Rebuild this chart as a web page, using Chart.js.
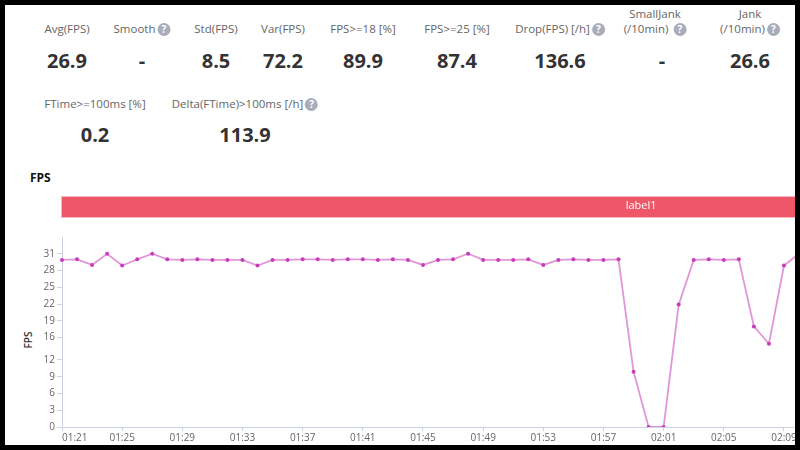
<!DOCTYPE html>
<html>
<head>
<meta charset="utf-8">
<script src="https://cdn.jsdelivr.net/npm/chart.js@4"></script>
<style>
  html, body { margin: 0; padding: 0; background: #000; }
  #page { position: absolute; left: 5px; top: 5px; width: 790px; height: 440px; background: #fff; overflow: hidden; font-family: "Open Sans", sans-serif; }
  #page canvas { position: absolute; left: -5px; top: -5px; }
  .stat { position: absolute; transform: translateX(-50%); white-space: nowrap; text-align: center; }
  .name { font-size: 11.5px; line-height: 15px; color: #666; }
  .val { font-size: 20px; font-weight: 700; line-height: 24px; color: #333; }
  .help { display: inline-block; width: 13px; height: 13px; border-radius: 50%; background: #a9adba; color: #fff; font-size: 10px; font-weight: 700; line-height: 13px; text-align: center; vertical-align: 0; margin-left: 2px; }
  #title { position: absolute; left: 25px; top: 164px; font-size: 12px; font-weight: 700; color: #111; }
  #yname { position: absolute; left: 15px; top: 328px; font-size: 10px; font-weight: 600; color: #333; transform: rotate(-90deg); }
</style>
</head>
<body>
<div id="page">
  <div class="stat name" style="left:62px;top:16px">Avg(FPS)</div>
  <div class="stat name" style="left:137px;top:16px">Smooth<span class="help">?</span></div>
  <div class="stat name" style="left:211px;top:16px">Std(FPS)</div>
  <div class="stat name" style="left:278px;top:16px">Var(FPS)</div>
  <div class="stat name" style="left:358px;top:16px">FPS&gt;=18 [%]</div>
  <div class="stat name" style="left:452px;top:16px">FPS&gt;=25 [%]</div>
  <div class="stat name" style="left:555px;top:16px">Drop(FPS) [/h]<span class="help">?</span></div>
  <div class="stat name" style="left:650px;top:1px">SmallJank<br>(/10min) <span class="help">?</span></div>
  <div class="stat name" style="left:745px;top:1px">Jank<br>(/10min)<span class="help">?</span></div>

  <div class="stat val" style="left:62px;top:44px">26.9</div>
  <div class="stat val" style="left:137px;top:44px">-</div>
  <div class="stat val" style="left:211px;top:44px">8.5</div>
  <div class="stat val" style="left:278px;top:44px">72.2</div>
  <div class="stat val" style="left:358px;top:44px">89.9</div>
  <div class="stat val" style="left:452px;top:44px">87.4</div>
  <div class="stat val" style="left:555px;top:44px">136.6</div>
  <div class="stat val" style="left:657px;top:44px">-</div>
  <div class="stat val" style="left:745px;top:44px">26.6</div>

  <div class="stat name" style="left:90px;top:91px">FTime&gt;=100ms [%]</div>
  <div class="stat name" style="left:240px;top:91px">Delta(FTime)&gt;100ms [/h]<span class="help">?</span></div>
  <div class="stat val" style="left:90px;top:118px">0.2</div>
  <div class="stat val" style="left:240px;top:118px">113.9</div>

  <div id="title">FPS</div>
  <div id="yname">FPS</div>
  <!-- wider than the window on purpose, the plot runs past the right edge -->
  <canvas id="fpsChart" width="803" height="450"></canvas>
</div>

<script>
const minutes = [
  "01:21", "01:22", "01:23", "01:24", "01:25", "01:26", "01:27", "01:28", "01:29", "01:30",
  "01:31", "01:32", "01:33", "01:34", "01:35", "01:36", "01:37", "01:38", "01:39", "01:40",
  "01:41", "01:42", "01:43", "01:44", "01:45", "01:46", "01:47", "01:48", "01:49", "01:50",
  "01:51", "01:52", "01:53", "01:54", "01:55", "01:56", "01:57", "01:58", "01:59", "02:00",
  "02:01", "02:02", "02:03", "02:04", "02:05", "02:06", "02:07", "02:08", "02:09", "02:10",
];
const fpsValues = [
  29.9, 30, 29, 31, 28.9, 30, 31, 30, 29.9, 30,
  29.9, 29.9, 29.9, 28.9, 29.9, 29.9, 30, 30, 29.9, 30,
  30, 29.9, 30, 29.9, 29, 29.9, 30, 31, 29.9, 29.9,
  29.9, 30, 29, 29.9, 30, 29.9, 29.9, 30, 9.9, 0,
  0, 21.9, 29.9, 30, 29.9, 30, 18, 14.9, 28.9, 31,
];
const yTicks = [0, 3, 6, 9, 12, 16, 19, 22, 25, 28, 31];
const xTickLabels = ["01:21", "01:25", "01:29", "01:33", "01:37", "01:41", "01:45", "01:49", "01:53", "01:57", "02:01", "02:05", "02:09"];
const bandName = "label1";
const bandFrom = "01:21";
const bandCenter = 38.5; // band runs on past the right edge of the window, its text sits here

// red band over the plot, placed with the x scale
const labelBand = {
  id: "labelBand",
  beforeDraw(chart) {
    const x = chart.scales.x;
    const ctx = chart.ctx;
    const left = x.getPixelForValue(minutes.indexOf(bandFrom));
    ctx.save();
    ctx.fillStyle = "#f8b9c0";
    ctx.fillRect(left - 1, 196, chart.width - left + 1, 22);
    ctx.fillStyle = "#ee5767";
    ctx.fillRect(left, 197, chart.width - left, 20);
    ctx.fillStyle = "#fff";
    ctx.font = '11px "Open Sans"';
    ctx.textAlign = "center";
    ctx.textBaseline = "middle";
    ctx.fillText(bandName, x.getPixelForValue(bandCenter), 206);
    ctx.restore();
  },
};

const ctx = document.getElementById("fpsChart").getContext("2d");
new Chart(ctx, {
  type: "line",
  data: {
    labels: minutes,
    datasets: [
      {
        label: "FPS",
        data: fpsValues,
        borderColor: "#e296da",
        borderWidth: 1.8,
        tension: 0,
        pointRadius: 2,
        pointBackgroundColor: "#c93cb8",
        pointBorderWidth: 0,
      },
    ],
  },
  plugins: [labelBand],
  options: {
    responsive: false,
    animation: false,
    layout: { padding: { top: 237, right: 1.5, left: 0, bottom: 0 } },
    plugins: { legend: { display: false }, tooltip: { enabled: false } },
    scales: {
      x: {
        type: "category",
        offset: false,
        grid: { drawOnChartArea: false, tickLength: 4, color: "#ccd3e0" },
        border: { color: "#ccd3e0", width: 1 },
        afterFit: (scale) => { scale.height = 23; },
        afterBuildTicks: (scale) => {
          // the last tick is blank and off the window, it keeps 01:21 aligned to the axis start
          scale.ticks = xTickLabels.concat(minutes[minutes.length - 1]).map((m) => ({ value: minutes.indexOf(m) }));
        },
        ticks: {
          autoSkip: false,
          maxRotation: 0,
          align: "inner",
          padding: 1,
          color: "#666",
          font: { family: "Open Sans", size: 10 },
          callback: function (value) {
            const m = this.getLabelForValue(value);
            return xTickLabels.includes(m) ? m : "";
          },
        },
      },
      y: {
        min: 0,
        max: 34,
        afterFit: (scale) => { scale.width = 62; },
        afterBuildTicks: (scale) => {
          scale.ticks = yTicks.map((v) => ({ value: v }));
        },
        grid: { drawOnChartArea: false, tickLength: 5, color: "#ccd3e0" },
        border: { color: "#ccd3e0", width: 1 },
        ticks: {
          padding: 2,
          color: "#666",
          font: { family: "Open Sans", size: 10 },
        },
      },
    },
  },
});
</script>
</body>
</html>
